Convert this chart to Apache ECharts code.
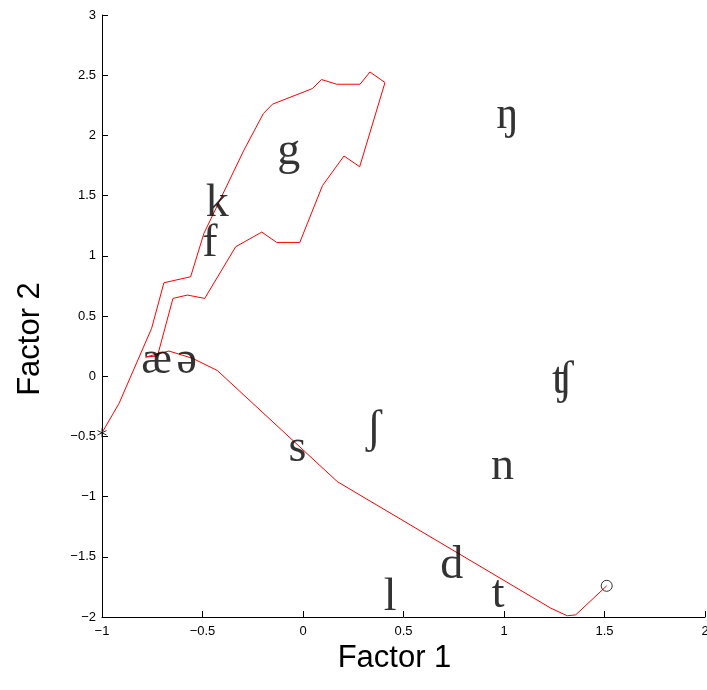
<!DOCTYPE html>
<html>
<head>
<meta charset="utf-8">
<script src="https://cdn.jsdelivr.net/npm/echarts@6/dist/echarts.min.js"></script>
<style>
  html, body { margin: 0; padding: 0; background: #fff; }
  #chart { width: 707px; height: 690px; }
</style>
</head>
<body>
<div id="chart"></div>
<script>
// trajectory (Factor 1, Factor 2)
var pathX = [-1.0, -0.915, -0.753, -0.692, -0.559, -0.493, -0.294, -0.197, -0.152, 0.047, 0.092, 0.168, 0.284, 0.333, 0.408,
    0.282, 0.204, 0.097, -0.016, -0.131, -0.205, -0.335, -0.489, -0.575, -0.647, -0.724, -0.783, -0.667, -0.550, -0.426,
    0.171, 1.232, 1.315, 1.357, 1.511];
var pathY = [-0.47, -0.225, 0.398, 0.776, 0.826, 1.186, 1.877, 2.182, 2.259, 2.389, 2.464, 2.425, 2.425, 2.527, 2.439,
    1.740, 1.829, 1.583, 1.111, 1.111, 1.197, 1.075, 0.646, 0.674, 0.646, 0.168, 0.159, 0.209, 0.149, 0.047,
    -0.876, -1.926, -1.990, -1.982, -1.741];

// phoneme labels
var labelNames = ['ŋ', 'g', 'k', 'f', 'æ', 'ə', 'ʧ', 'ʃ', 's', 'n', 'd', 'l', 't'];
var labelX = [1.018, -0.071, -0.426, -0.463, -0.728, -0.579, 1.292, 0.353, -0.028, 0.992, 0.740, 0.433, 0.971];
var labelY = [2.159, 1.861, 1.429, 1.097, 0.126, 0.126, -0.040, -0.447, -0.604, -0.754, -1.575, -1.841, -1.815];

var xTicks = { min: -1, max: 2, interval: 0.5 };
var yTicks = { min: -2, max: 3, interval: 0.5 };

var pathData = pathX.map(function(x, i) { return [x, pathY[i]]; });
var labelData = labelNames.map(function(n, i) { return [labelX[i], labelY[i], n]; });

function tickFmt(v) {
    return String(v).replace('-', '\u2212');
}

var chart = echarts.init(document.getElementById('chart'));
var axisCommon = {
    type: 'value',
    nameLocation: 'middle',
    axisLine: { show: true, onZero: false, lineStyle: { color: '#000', width: 1 } },
    axisTick: { show: true, inside: true, length: 6, lineStyle: { color: '#000' } },
    axisLabel: { fontFamily: 'Liberation Sans', fontSize: 13, color: '#000', formatter: tickFmt },
    splitLine: { show: false }
};

var option = {
    animation: false,
    grid: { left: 102, right: 2, top: 15, bottom: 73, containLabel: false, outerBoundsMode: 'none' },
    xAxis: Object.assign({}, axisCommon, {
        name: 'Factor 1', nameGap: 18,
        nameTextStyle: { fontFamily: 'Liberation Sans', fontSize: 31, color: '#000', padding: [0, 18, 0, 0] },
        min: xTicks.min, max: xTicks.max, interval: xTicks.interval,
        axisLabel: Object.assign({}, axisCommon.axisLabel, { margin: 8 })
    }),
    yAxis: Object.assign({}, axisCommon, {
        name: 'Factor 2', nameGap: 56,
        nameTextStyle: { fontFamily: 'Liberation Sans', fontSize: 31, color: '#000', padding: [0, 46, 0, 0] },
        min: yTicks.min, max: yTicks.max, interval: yTicks.interval,
        axisLabel: Object.assign({}, axisCommon.axisLabel, { margin: 6 })
    }),
    series: [{
        type: 'line',
        data: pathData,
        symbol: 'none',
        lineStyle: { color: '#ff0000', width: 1 },
        z: 2
    }, {
        type: 'scatter',
        data: [pathData[0]],
        symbol: 'path://M0,-5L0,5M-4.33,-2.5L4.33,2.5M-4.33,2.5L4.33,-2.5',
        symbolSize: 9,
        itemStyle: { color: 'none', borderColor: '#000', borderWidth: 1 },
        z: 3
    }, {
        type: 'scatter',
        data: [pathData[pathData.length - 1]],
        symbol: 'circle',
        symbolSize: 11,
        itemStyle: { color: 'none', borderColor: '#000', borderWidth: 1 },
        z: 3
    }, {
        type: 'scatter',
        data: labelData,
        symbolSize: 0,
        label: {
            show: true,
            position: 'inside',
            formatter: function(p) { return p.data[2]; },
            fontFamily: 'Liberation Serif, DejaVu Serif, serif',
            fontSize: 46,
            color: '#000',
            textBorderWidth: 0
        },
        z: 4
    }]
};
chart.setOption(option);
</script>
</body>
</html>
